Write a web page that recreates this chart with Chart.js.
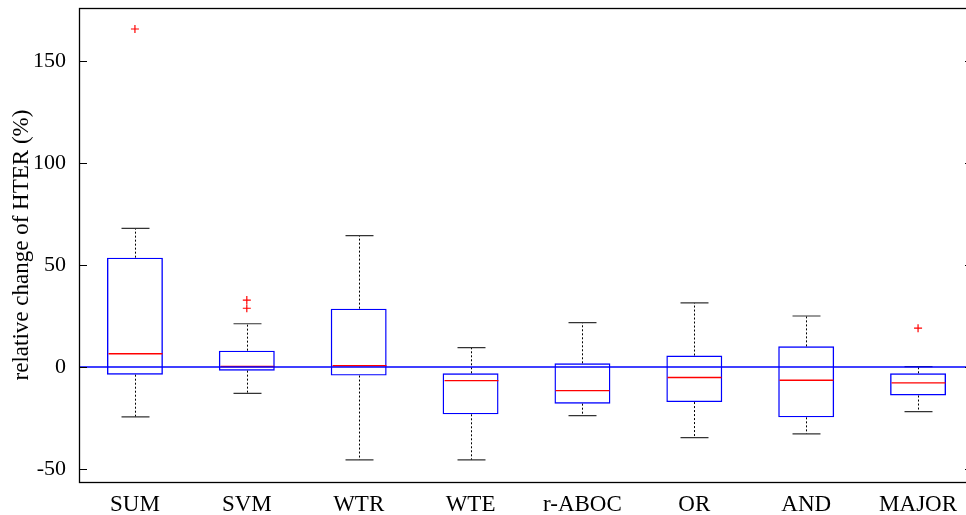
<!DOCTYPE html>
<html>
<head>
<meta charset="utf-8">
<script src="https://cdn.jsdelivr.net/npm/chart.js@4"></script>
<style>
html,body{margin:0;padding:0;overflow:hidden;background:#fff;}
#wrap{width:974px;height:515px;}
</style>
</head>
<body>
<div id="wrap"><canvas id="ch" width="974" height="515"></canvas></div>
<script>
/* box plot data */
const categories=['SUM','SVM','WTR','WTE','r-ABOC','OR','AND','MAJOR'];
const whiskerLow=[-24.5,-12.9,-45.6,-45.6,-23.9,-34.6,-32.8,-21.9];
const q1=[-3.8,-1.8,-4.2,-23.2,-18.0,-17.2,-24.7,-14.0];
const medians=[6.5,0.2,0.6,-6.7,-11.6,-5.2,-6.5,-7.8];
const q3=[53.6,8.0,28.6,-3.1,1.8,5.6,10.1,-3.1];
const whiskerHigh=[68.0,21.2,64.4,9.5,21.7,31.4,25.0,0.2];
const outlierCat=['SUM','SVM','SVM','MAJOR'];
const outlierVal=[165.7,32.8,28.8,19.0];
const yTicks=[-50,0,50,100,150];
const refLine=0;

const FONT='"Liberation Serif", "DejaVu Serif", serif';

const boxParts={
    id:'boxParts',
    afterDatasetsDraw(chart){
        const {ctx,chartArea:a,scales:{x,y}}=chart;
        const slot=x.getPixelForValue(1)-x.getPixelForValue(0);
        const capW=slot/4;
        ctx.save();
        categories.forEach((c,i)=>{
            const cx=Math.round(x.getPixelForValue(i))+.5;
            // whiskers
            ctx.strokeStyle='#000'; ctx.lineWidth=1;
            ctx.setLineDash([2,2]);
            ctx.beginPath();
            ctx.moveTo(cx,y.getPixelForValue(q3[i])); ctx.lineTo(cx,y.getPixelForValue(whiskerHigh[i]));
            ctx.moveTo(cx,y.getPixelForValue(q1[i])); ctx.lineTo(cx,y.getPixelForValue(whiskerLow[i]));
            ctx.stroke();
            ctx.setLineDash([]);
            ctx.strokeStyle='#333'; ctx.lineWidth=1.2;
            ctx.beginPath();
            const hy=y.getPixelForValue(whiskerHigh[i]);
            const ly=y.getPixelForValue(whiskerLow[i]);
            ctx.moveTo(cx-capW/2,hy); ctx.lineTo(cx+capW/2,hy);
            ctx.moveTo(cx-capW/2,ly); ctx.lineTo(cx+capW/2,ly);
            ctx.stroke();
            // median
            const my=y.getPixelForValue(medians[i]);
            ctx.strokeStyle='#ff0000'; ctx.lineWidth=1.4;
            ctx.beginPath(); ctx.moveTo(cx-slot/4+1,my); ctx.lineTo(cx+slot/4-1,my); ctx.stroke();
        });
        // zero reference line
        const zy=y.getPixelForValue(refLine);
        ctx.strokeStyle='#0000ff'; ctx.lineWidth=1.4;
        ctx.beginPath(); ctx.moveTo(a.left,zy); ctx.lineTo(a.right,zy); ctx.stroke();
        ctx.restore();
    },
    afterDraw(chart){
        const {ctx,chartArea:a,scales:{y}}=chart;
        ctx.save();
        ctx.strokeStyle='#000'; ctx.lineWidth=1.3;
        ctx.strokeRect(a.left+.5,a.top+.5,a.right-a.left,a.bottom-a.top);
        ctx.lineWidth=1;
        ctx.beginPath();
        yTicks.forEach(v=>{
            const ty=Math.round(y.getPixelForValue(v))+.5;
            ctx.moveTo(a.left,ty); ctx.lineTo(a.left+8,ty);
            ctx.moveTo(a.right-9,ty); ctx.lineTo(a.right,ty);
        });
        ctx.stroke();
        ctx.restore();
    }
};

new Chart(document.getElementById('ch').getContext('2d'),{
    type:'bar',
    data:{
        labels:categories,
        datasets:[
            {type:'bar',data:categories.map((c,i)=>[q1[i],q3[i]]),backgroundColor:'rgba(0,0,0,0)',borderColor:'#0000ff',borderWidth:1.4,borderSkipped:false,barPercentage:.5,categoryPercentage:1,order:2},
            {type:'scatter',data:outlierCat.map((c,i)=>({x:c,y:outlierVal[i]})),pointStyle:'cross',radius:4,borderColor:'#ff0000',borderWidth:1.2,order:1}
        ]
    },
    options:{
        responsive:false,
        animation:false,
        events:[],
        layout:{autoPadding:false,padding:{left:0,top:8,right:0,bottom:0}},
        plugins:{legend:{display:false},tooltip:{enabled:false}},
        scales:{
            x:{
                type:'category',
                offset:true,
                grid:{display:false},
                border:{display:false},
                ticks:{color:'#000',font:{family:FONT,size:23},padding:1,maxRotation:0},
                afterFit:s=>{s.height=33;s.paddingLeft=0;s.paddingRight=0;}
            },
            y:{
                min:-56.4,max:176,
                grid:{display:false},
                border:{display:false},
                afterBuildTicks:s=>{s.ticks=yTicks.map(v=>({value:v}));},
                ticks:{color:'#000',font:{family:FONT,size:22},padding:5},
                title:{display:true,text:'relative change of HTER (%)',color:'#000',font:{family:FONT,size:23},padding:{top:8,bottom:0}},
                afterFit:s=>{s.width=79;s.paddingTop=0;s.paddingBottom=0;}
            }
        }
    },
    plugins:[boxParts]
});
</script>
</body>
</html>
